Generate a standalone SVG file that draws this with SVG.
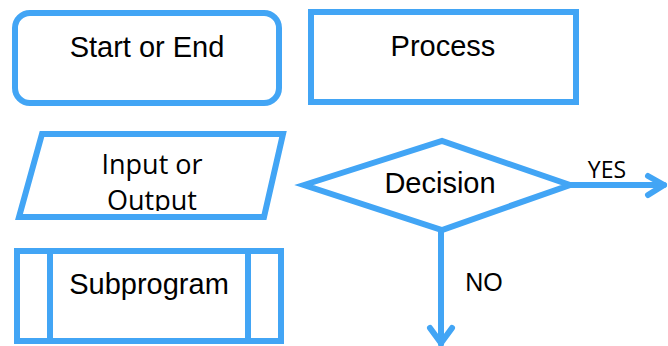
<svg xmlns="http://www.w3.org/2000/svg" width="668" height="346" viewBox="0 0 668 346">
<style>
.s{fill:#fff;stroke:#42A5F5;stroke-width:6}
.l{fill:none;stroke:#42A5F5;stroke-width:6;stroke-linecap:round;stroke-linejoin:round}
.t{font-family:"Liberation Sans",Arial,sans-serif;font-size:29px;fill:#000;text-anchor:middle}
.u{font-family:"Open Sans","Noto Sans",sans-serif;fill:#000;text-anchor:middle}
</style>
<defs>
<clipPath id="io"><rect x="0" y="130" width="300" height="81"/></clipPath>
</defs>
<g id="start-end">
<rect class="s" x="15" y="13" width="264" height="90" rx="15"/>
<text class="t" x="147" y="57">Start or End</text>
</g>
<g id="process">
<rect class="s" x="311" y="12" width="265" height="90"/>
<text class="t" x="443" y="56">Process</text>
</g>
<g id="input-output">
<polygon class="s" points="42,134 283,134 264,217 19,217"/>
<g clip-path="url(#io)">
<text class="u" font-size="27" x="152" y="174">Input or</text>
<text class="u" font-size="27" x="152" y="210">Output</text>
</g>
</g>
<g id="decision">
<polygon class="s" points="304,185 442,141 570,185 442,230"/>
<text class="t" x="440" y="193">Decision</text>
</g>
<g id="subprogram">
<rect class="s" x="17" y="251" width="264" height="90"/>
<line class="s" x1="50" y1="251" x2="50" y2="341"/>
<line class="s" x1="248" y1="251" x2="248" y2="341"/>
<text class="t" x="149" y="294">Subprogram</text>
</g>
<g id="connectors">
<line class="l" x1="570" y1="185" x2="664" y2="185"/>
<polyline class="l" points="648,176 664,185 648,195"/>
<line class="l" x1="441" y1="230" x2="441" y2="344"/>
<polyline class="l" points="430,328 441,343 452,328"/>
<text class="u" font-size="23" x="607" y="178">YES</text>
<text class="t" x="484" y="291" style="font-size:25px">NO</text>
</g>
</svg>
